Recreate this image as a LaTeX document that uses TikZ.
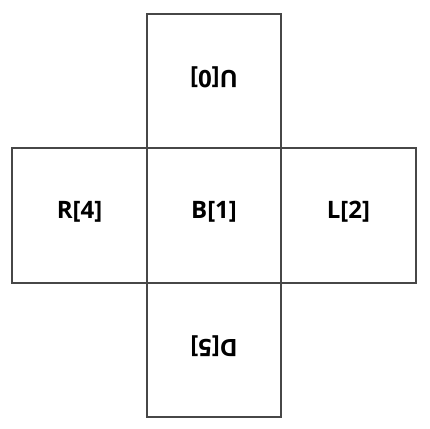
\documentclass[tikz,border=0pt]{standalone}
\usepackage{fontspec}
\setmainfont{Open Sans}
\begin{document}
\begin{tikzpicture}[x=1pt,y=1pt,
  face/.style={draw=black!72, line width=1.6pt, minimum width=134.5pt, minimum height=134.5pt, inner sep=0pt},
  lab/.style={inner sep=0pt, font=\fontsize{24}{28}\selectfont\bfseries, text=black}]
\useasboundingbox (0,0) rectangle (430,428);
\node[face] (U) at (214,347) {};
\node[face] (R) at (79.5,212.5) {};
\node[face] (B) at (214,212.5) {};
\node[face] (L) at (348.5,212.5) {};
\node[face] (D) at (214,78) {};
\node[lab, rotate=180] (Ut) at ([yshift=4pt]U.center) {U[0]};
\node[lab] (Rt) at ([yshift=4pt]R.center) {R[4]};
\node[lab] (Bt) at ([yshift=4pt]B.center) {B[1]};
\node[lab] (Lt) at ([yshift=4pt]L.center) {L[2]};
\node[lab, rotate=180] (Dt) at ([yshift=4pt]D.center) {D[5]};
\end{tikzpicture}
\end{document}
